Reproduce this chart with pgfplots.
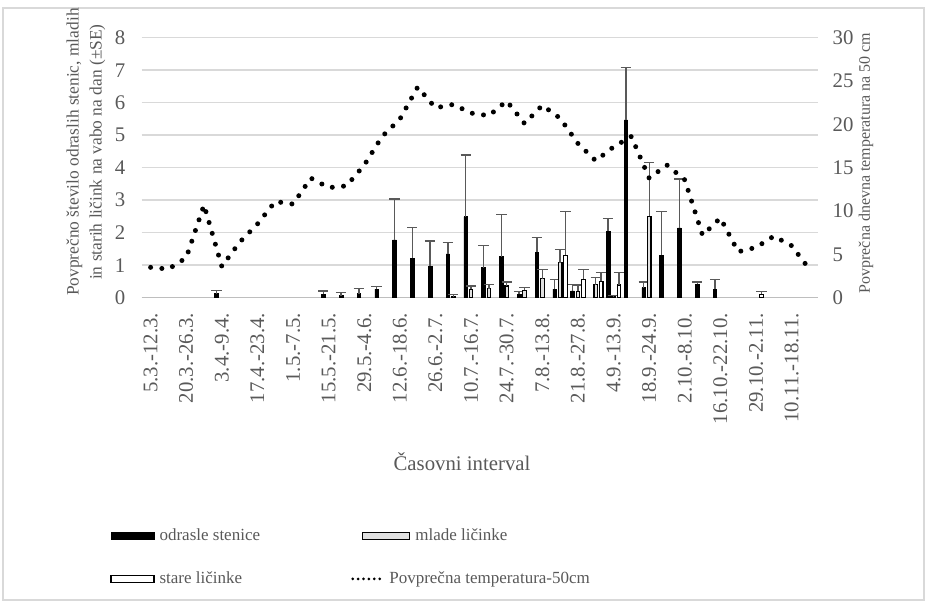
\documentclass[border=0pt]{standalone}
\usepackage{pgfplots}
\pgfplotsset{compat=1.18}
\usepackage{fontspec}
\setmainfont{Liberation Serif}
\definecolor{txt}{HTML}{595959}
\definecolor{gridc}{HTML}{D9D9D9}
\definecolor{errc}{HTML}{595959}
\definecolor{mlade}{HTML}{E0E0E0}
\pgfplotsset{
  errbar/.style={
    error bars/y dir=plus, error bars/y explicit,
    error bars/error bar style={errc, line width=0.65pt},
    error bars/error mark options={errc, rotate=90, mark size=2.6pt, line width=0.65pt}},
  rectleg/.style={legend image code/.code={\draw[##1] (0pt,-1.75pt) rectangle (#1,1.75pt);}}
}
\begin{document}
\begin{tikzpicture}
\path[use as bounding box] (0,0) rectangle (463.5pt,301.5pt);
\draw[gridc, line width=0.6pt] (1.5pt,1.5pt) rectangle (462pt,297.5pt);

\begin{axis}[
  at={(70.85pt,152.65pt)}, anchor=south west,
  scale only axis, width=338.3pt, height=130pt,
  xmin=-0.5, xmax=37.5, ymin=0, ymax=8,
  ybar, bar width=1.8pt,
  axis x line*=bottom, axis y line*=left,
  x axis line style={draw=gridc!70!gray, line width=0.75pt, -},
  y axis line style={draw=none},
  ymajorgrids, grid style={gridc, line width=0.75pt},
  major tick length=0pt,
  ytick={0,1,...,8},
  xtick={0,2,...,36},
  xticklabels={5.3.-12.3., 20.3.-26.3., 3.4.-9.4., 17.4.-23.4., 1.5.-7.5., 15.5.-21.5., 29.5.-4.6., 12.6.-18.6., 26.6.-2.7., 10.7.-16.7., 24.7.-30.7., 7.8.-13.8., 21.8.-27.8., 4.9.-13.9., 18.9.-24.9., 2.10.-8.10., 16.10.-22.10., 29.10.-2.11., 10.11.-18.11.},
  /pgf/number format/assume math mode=true,
  yticklabel style={font=\fontsize{10.4}{12}\selectfont, text=txt, anchor=east, inner sep=0pt},
  yticklabel shift=8pt,
  xticklabel style={font=\fontsize{10.4}{12}\selectfont, text=txt, rotate=90, anchor=east, inner sep=0pt},
  xticklabel shift=7.5pt,
  xlabel={Časovni interval},
  xlabel style={at={(axis description cs:0.4734,-0.632)}, anchor=center, font=\fontsize{10.4}{12}\selectfont, text=txt},
  ylabel={Povprečno število odraslih stenic, mladih\\in starih ličink na vabo na dan (±SE)},
  ylabel style={at={(axis description cs:-0.0823,0.56)}, anchor=center, align=center, font=\fontsize{8.7}{11.5}\selectfont, text=txt},
  clip=false,
]
\addplot[fill=black, draw=black, line width=0.3pt, bar shift=-2.7pt, errbar] coordinates {
 (4,0.12) +- (0,0.10) (10,0.10) +- (0,0.11) (11,0.06) +- (0,0.10) (12,0.12) +- (0,0.16)
 (13,0.26) +- (0,0.09) (14,1.78) +- (0,1.26) (15,1.21) +- (0,0.96) (16,0.97) +- (0,0.77)
 (17,1.35) +- (0,0.34) (18,2.49) +- (0,1.90) (19,0.92) +- (0,0.68) (20,1.26) +- (0,1.29)
 (21,0.10) +- (0,0.08) (22,1.40) +- (0,0.45) (23,0.26) +- (0,0.31) (24,0.21) +- (0,0.19)
 (26,2.05) +- (0,0.38) (27,5.47) +- (0,1.62) (28,0.31) +- (0,0.17) (29,1.31) +- (0,1.34)
 (30,2.15) +- (0,1.50) (31,0.41) +- (0,0.07) (32,0.26) +- (0,0.29)
};
\addplot[fill=mlade, draw=black, line width=0.6pt, bar shift=0pt, errbar] coordinates {
 (17,0.02) +- (0,0.07) (18,0.26) +- (0,0.10) (19,0.28) +- (0,0.13) (20,0.36) +- (0,0.12)
 (21,0.23) +- (0,0.09) (22,0.58) +- (0,0.29) (23,1.08) +- (0,0.41) (24,0.20) +- (0,0.19)
 (25,0.40) +- (0,0.22) (26,0.03) +- (0,0.03) (28,2.51) +- (0,1.66)
};
\addplot[fill=white, draw=black, line width=0.6pt, bar shift=2.7pt, errbar] coordinates {
 (23,1.31) +- (0,1.34) (24,0.57) +- (0,0.30) (25,0.50) +- (0,0.27) (26,0.39) +- (0,0.38)
 (34,0.10) +- (0,0.08)
};
\end{axis}

\begin{axis}[
  at={(70.85pt,152.65pt)}, anchor=south west,
  scale only axis, width=338.3pt, height=130pt,
  xmin=-0.5, xmax=37.5, ymin=0, ymax=30,
  axis x line=none, axis y line*=right,
  y axis line style={draw=none},
  major tick length=0pt,
  ytick={0,5,...,30},
  /pgf/number format/assume math mode=true,
  yticklabel style={font=\fontsize{10.4}{12}\selectfont, text=txt, anchor=west, inner sep=0pt},
  yticklabel shift=7pt,
  ylabel={Povprečna dnevna temperatura na 50 cm},
  ylabel style={at={(axis description cs:1.0705,0.518)}, anchor=center, rotate=0, font=\fontsize{8}{10}\selectfont, text=txt},
  clip=false,
  legend columns=2,
  legend cell align=left,
  legend style={at={(axis description cs:-0.0469,-0.886)}, anchor=north west, draw=none, fill=none, inner sep=0pt,
    font=\fontsize{8.5}{10}\selectfont, text=txt,
    nodes={inner sep=0pt, text height=6pt, text depth=1.5pt},
    /tikz/every odd column/.append style={column sep=2.5pt},
    /tikz/every even column/.append style={column sep=51pt},
    row sep=14pt},
]
\addlegendimage{rectleg=21.5pt, fill=black, draw=black}
\addlegendentry{odrasle stenice}
\addlegendimage{rectleg=23.5pt, fill=mlade, draw=black, line width=0.6pt}
\addlegendentry{mlade ličinke}
\addlegendimage{rectleg=21.5pt, fill=white, draw=black, line width=0.6pt}
\addlegendentry{stare ličinke}
\addplot[black, mark=none, line width=2.5pt, line cap=round, line join=round, dash pattern=on 0pt off 5.65pt,
  legend image code/.code={\path[draw=none, fill=none] (0pt,0pt) rectangle (23.5pt,0pt);
    \draw[overlay, black, solid, line width=1.5pt, line cap=round, dash pattern=on 0pt off 2.7pt] (-5pt,0pt) -- (8.5pt,0pt);}]
 coordinates {
 (0,3.5) (1,3.3) (2,4.6) (3,10.7) (4,3.6) (5,6.4) (6,8.5) (7,11.1) (8,10.8) (9,13.8)
 (10,12.7) (11,12.9) (12,15.3) (13,18.6) (14,20.6) (15,24.3) (16,21.9) (17,22.3) (18,21.3) (19,21.0)
 (20,22.7) (21,20.1) (22,22.2) (23,20.7) (24,17.8) (25,15.8) (26,17.4) (27,18.6) (28,13.8) (29,15.3)
 (30,13.6) (31,7.2) (32,9.2) (33,5.3) (34,5.8) (35,7.1) (36,6.0) (37,3.3)
};
\addlegendentry{\hspace*{-13pt}Povprečna temperatura-50cm}
\end{axis}
\end{tikzpicture}
\end{document}
